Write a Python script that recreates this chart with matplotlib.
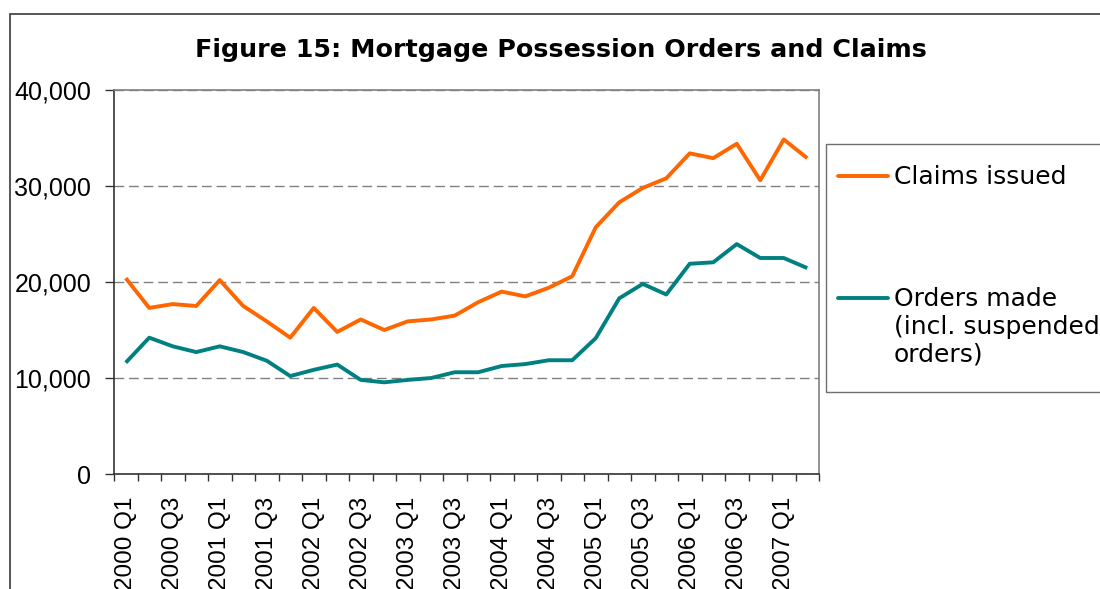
import numpy as np
import matplotlib.pyplot as plt
from matplotlib.lines import Line2D
from matplotlib.patches import Rectangle
from matplotlib.ticker import FuncFormatter

years = [2000, 2001, 2002, 2003, 2004, 2005, 2006, 2007]
quarters = [f"{y} Q{q}" for y in years for q in (1, 2, 3, 4)][:30]

claims = [20400, 17300, 17700, 17500, 20200, 17500, 15900, 14200, 17300, 14800,
          16100, 15000, 15900, 16100, 16500, 17900, 19000, 18500, 19400, 20600,
          25700, 28300, 29800, 30800, 33400, 32900, 34400, 30600, 34850, 32900]
orders = [11600, 14200, 13300, 12700, 13300, 12700, 11800, 10200, 10850, 11400,
          9800, 9550, 9800, 10000, 10600, 10600, 11250, 11450, 11850, 11850,
          14150, 18300, 19800, 18700, 21900, 22050, 23950, 22500, 22500, 21450]

series_names = ["Claims issued", "Orders made\n(incl. suspended\norders)"]
colors = ["#FF6600", "#008080"]

W, H = 1100, 589
fig = plt.figure(figsize=(W / 100, H / 100), dpi=100)

def fx(px):
    return px / W

def fy(py):
    return 1 - py / H

ax = fig.add_axes([fx(114), fy(474), fx(819) - fx(114), fy(90) - fy(474)])

x = np.arange(len(quarters))
ax.plot(x, claims, color=colors[0], lw=2.8, solid_capstyle='butt', zorder=3)
ax.plot(x, orders, color=colors[1], lw=2.8, solid_capstyle='butt', zorder=3)

ax.set_xlim(-0.5, len(quarters) - 0.5)
ax.set_ylim(0, 40000)

ax.set_yticks([0, 10000, 20000, 30000, 40000])
ax.yaxis.set_major_formatter(FuncFormatter(lambda v, p: f"{int(v):,}"))
ax.tick_params(axis='y', direction='out', length=6.5, width=1, color='#333333',
               pad=10, labelsize=18)
for lab in ax.get_yticklabels():
    lab.set_fontfamily('Liberation Sans')

ax.set_xticks(x[::2])
ax.set_xticklabels(quarters[::2], rotation=90, fontsize=17.5, family='Liberation Sans')
ax.set_xticks(np.arange(-0.5, len(quarters), 1), minor=True)
ax.tick_params(axis='x', which='major', length=0, pad=16.5)
ax.tick_params(axis='x', which='minor', length=5, width=1, color='#333333')

ax.grid(axis='y', color='#808080', lw=1, linestyle=(0, (7, 3.5)))
ax.set_axisbelow(True)

ax.spines['left'].set_color('#333333')
ax.spines['bottom'].set_color('#333333')
ax.spines['top'].set_color('#808080')
ax.spines['right'].set_color('#808080')
for s in ax.spines.values():
    s.set_linewidth(1.2)

# outer frame of the figure (cropped on right and bottom)
fig.add_artist(Rectangle((fx(9.5), -0.2), 1.2, fy(14) + 0.2, transform=fig.transFigure,
                         fill=False, edgecolor='#3a3a3a', lw=1.2))

fig.text(fx(561), fy(50), "Figure 15: Mortgage Possession Orders and Claims",
         ha='center', va='center', fontsize=18.3, fontweight='bold', family='DejaVu Sans')

# legend
fig.add_artist(Rectangle((fx(826), fy(392)), 0.5, fy(144) - fy(392), transform=fig.transFigure,
                         fill=False, edgecolor='#707070', lw=1))
for name, c, py in zip(series_names, colors, [176, 298]):
    fig.add_artist(Line2D([fx(838), fx(888)], [fy(py), fy(py)], transform=fig.transFigure,
                          color=c, lw=2.8, solid_capstyle='round'))
    fig.text(fx(894), fy(py - 11), name, ha='left', va='top', fontsize=18,
             family='DejaVu Sans', linespacing=1.2)

fig.savefig("out.png", dpi=100)
